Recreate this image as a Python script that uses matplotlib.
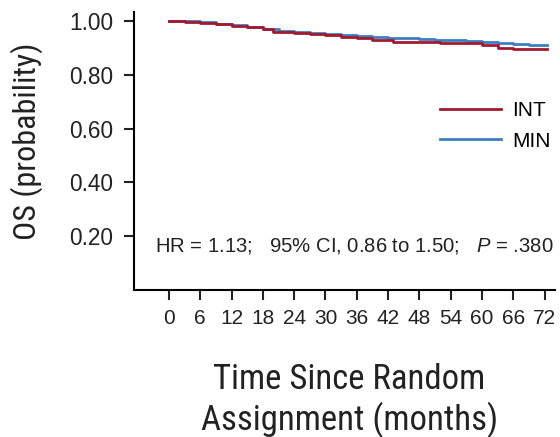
import matplotlib.pyplot as plt

# Kaplan-Meier step curves for overall survival by arm
int_time = [0, 3, 6, 9, 12, 15, 18, 20, 24, 27, 30, 33, 36, 39, 43, 48, 52, 57, 60, 63, 66, 69, 72.5]
int_surv = [1.0, 0.997, 0.993, 0.987, 0.982, 0.976, 0.970, 0.960, 0.956, 0.951, 0.946, 0.941, 0.935,
            0.930, 0.921, 0.920, 0.919, 0.916, 0.910, 0.899, 0.896, 0.896, 0.896]
min_time = [0, 3, 6, 9, 12, 15, 18, 21, 24, 27, 30, 33, 36, 39, 42, 45, 48, 51, 54, 57, 60, 63, 66, 69, 72.5]
min_surv = [1.0, 0.998, 0.994, 0.988, 0.983, 0.977, 0.971, 0.962, 0.958, 0.954, 0.950, 0.947, 0.944,
            0.940, 0.937, 0.935, 0.932, 0.930, 0.928, 0.925, 0.922, 0.918, 0.915, 0.912, 0.911]

x_ticks = list(range(0, 73, 6))
y_ticks = [0.2, 0.4, 0.6, 0.8, 1.0]

plt.rcParams['font.family'] = ['Liberation Sans', 'DejaVu Sans']
plt.rcParams['mathtext.fontset'] = 'custom'
plt.rcParams['mathtext.it'] = 'Liberation Sans:italic'
plt.rcParams['mathtext.rm'] = 'Liberation Sans'

narrow = ['Roboto Condensed', 'Liberation Sans Narrow', 'Liberation Sans']

fig = plt.figure(figsize=(5.6, 4.37), dpi=100)
ax = fig.add_axes([0.2393, 0.3364, 0.7518, 0.6362])

ax.step(int_time, int_surv, where='post', color='#a3192f', linewidth=2.0, label='INT', zorder=3)
ax.step(min_time, min_surv, where='post', color='#3b7fc0', linewidth=2.0, label='MIN', zorder=2)

ax.set_xlim(-6.7, 74)
ax.set_ylim(0, 1.033)
ax.set_xticks(x_ticks)
ax.set_yticks(y_ticks)
ax.set_yticklabels(['%.2f' % v for v in y_ticks])

for side in ['top', 'right']:
    ax.spines[side].set_visible(False)
for side in ['left', 'bottom']:
    ax.spines[side].set_linewidth(1.5)
ax.tick_params(axis='both', direction='out', length=7, width=1.5, labelsize=15, colors='#222222')
ax.tick_params(axis='x', pad=7)
ax.tick_params(axis='y', pad=8, labelsize=16.3)

ax.set_ylabel('OS (probability)', fontsize=23, family=narrow, color='#222222')
ax.yaxis.set_label_coords(-0.216, 0.534)
ax.set_xlabel('Time Since Random\nAssignment (months)', fontsize=25, family=narrow,
              linespacing=1.2, color='#222222')
ax.xaxis.set_label_coords(0.511, -0.262)

fig.legend(loc='upper left', bbox_to_anchor=(0.786, 0.768), bbox_transform=fig.transFigure,
           frameon=False, fontsize=15, handlelength=2.93, handletextpad=0.53, labelspacing=0.54,
           borderpad=0, borderaxespad=0)

ax.text(0.05, 0.16, r'HR = 1.13;   95% CI, 0.86 to 1.50;   $P$ = .380', transform=ax.transAxes,
        fontsize=14.6, va='center', ha='left', color='#222222')

fig.savefig('out.png', dpi=100)
